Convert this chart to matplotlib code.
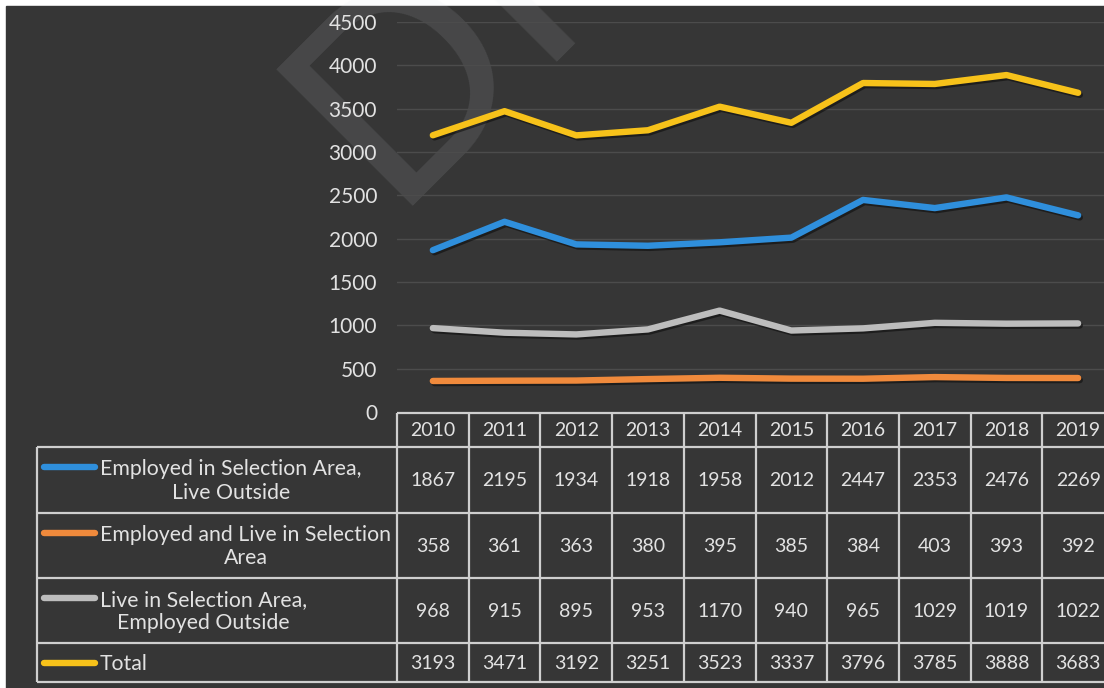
import numpy as np
import matplotlib.pyplot as plt
import matplotlib.patheffects as pe
from matplotlib.patches import Rectangle

# data
years = ["2010", "2011", "2012", "2013", "2014", "2015", "2016", "2017", "2018", "2019"]
employed_live_outside = [1867, 2195, 1934, 1918, 1958, 2012, 2447, 2353, 2476, 2269]
employed_and_live = [358, 361, 363, 380, 395, 385, 384, 403, 393, 392]
live_employed_outside = [968, 915, 895, 953, 1170, 940, 965, 1029, 1019, 1022]
total = [3193, 3471, 3192, 3251, 3523, 3337, 3796, 3785, 3888, 3683]

series_labels = ["Employed in Selection Area,\nLive Outside",
                 "Employed and Live in Selection\nArea",
                 "Live in Selection Area,\nEmployed Outside",
                 "Total"]
series_values = [employed_live_outside, employed_and_live, live_employed_outside, total]
colors = ["#2f8fdc", "#f08a3c", "#bdbdbd", "#f7c21a"]

plt.rcParams['font.family'] = ['Lato', 'DejaVu Sans']

W, H = 1104, 688
bg_col = "#363636"
txt_col = "#e2e2e2"
grid_col = "#cfcfcf"

fig = plt.figure(figsize=(W / 100, H / 100), dpi=100, facecolor="white")

# background layer in pixel units: panel, watermark, data table
bg = fig.add_axes([0, 0, 1, 1], zorder=0)
bg.set_xlim(0, W)
bg.set_ylim(H, 0)
bg.axis("off")
panel = Rectangle((6, 6), W, H, color=bg_col, zorder=0)
bg.add_patch(panel)

wm = bg.text(388, 206, "DR", rotation=45, rotation_mode="anchor", ha="left", va="baseline",
             fontsize=194, color=(0.85, 0.87, 0.9, 0.11), zorder=1)
wm.set_clip_path(panel)

# plot area lines up with the table columns
x0, col_w = 397, 71.7
y_top, y_zero = 22, 412
ax = fig.add_axes([x0 / W, 1 - y_zero / H, col_w * 10 / W, (y_zero - y_top) / H], zorder=1)
ax.patch.set_alpha(0)

xs = np.arange(len(years))
for vals, c in zip(series_values, colors):
    ax.plot(xs, vals, color=c, lw=4.6, solid_capstyle="round", solid_joinstyle="round",
            path_effects=[pe.SimpleLineShadow(offset=(1.2, -1.5), shadow_color="black", alpha=0.45),
                          pe.Normal()])

ax.set_xlim(-0.5, 9.5)
ax.set_ylim(0, 4500)
ax.set_yticks(np.arange(0, 4501, 500))
ax.set_xticks([])
ax.tick_params(axis="y", length=0, pad=14.4, labelsize=15, labelcolor=txt_col)
for s in ax.spines.values():
    s.set_visible(False)
ax.grid(axis="y", color="#4c4c4c", lw=1)
ax.set_axisbelow(True)

# data table
rows = [413, 447, 513, 578, 643, 682]
label_left = 37
right = x0 + col_w * 10
col_edges = [x0 + col_w * i for i in range(11)]
lk = dict(color=grid_col, lw=1.6, zorder=2, solid_capstyle="butt")

bg.plot([x0, right], [rows[0], rows[0]], **lk)
for r in rows[1:]:
    bg.plot([label_left, right], [r, r], **lk)
bg.plot([label_left, label_left], [rows[1], rows[-1]], **lk)
for cx in col_edges:
    bg.plot([cx, cx], [rows[0], rows[-1]], **lk)

num_fs = 14
lab_fs = 15.3
for i, yr in enumerate(years):
    bg.text(x0 + col_w * (i + 0.5), (rows[0] + rows[1]) / 2 + 1, yr, ha="center", va="center",
            fontsize=num_fs, color=txt_col, zorder=3)

for j, (lab, vals, c) in enumerate(zip(series_labels, series_values, colors)):
    top, bot = rows[j + 1], rows[j + 2]
    mid = (top + bot) / 2
    two_lines = "\n" in lab
    first_line_y = top + 20 if two_lines else mid
    bg.plot([44, 95], [first_line_y, first_line_y], color=c, lw=4.6,
            solid_capstyle="round", zorder=3)
    bg.text(100, mid + 1, lab, ha="left", va="center", multialignment="center",
            fontsize=lab_fs, color=txt_col, linespacing=1.22, zorder=3)
    for i, v in enumerate(vals):
        bg.text(x0 + col_w * (i + 0.5), mid + 1, str(v), ha="center", va="center",
                fontsize=num_fs, color=txt_col, zorder=3)

fig.savefig("out.png", dpi=100, facecolor=fig.get_facecolor())
